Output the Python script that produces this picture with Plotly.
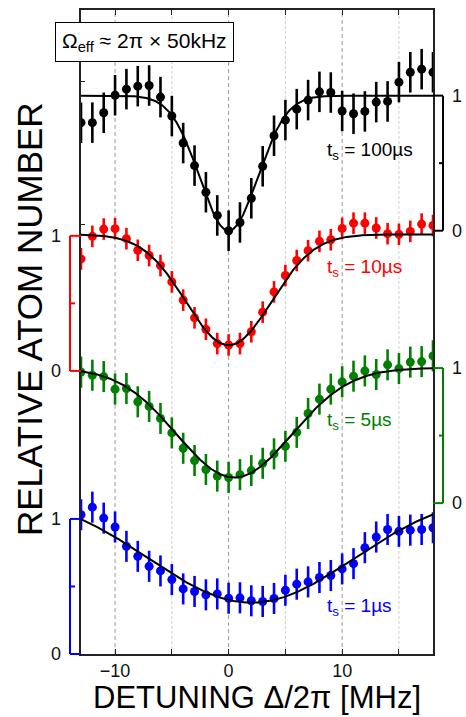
import numpy as np
import plotly.graph_objects as go

# ---------------- data ----------------
detuning = list(range(-13, 19))  # MHz

n_100us = [0.80, 0.80, 0.873, 1.003, 1.048, 1.07, 1.075, 0.989, 0.849, 0.649, 0.482, 0.285, 0.113, 0.0,
           0.061, 0.24, 0.477, 0.703, 0.819, 0.90, 0.967, 1.028, 1.023, 0.886, 0.866, 0.883, 0.952, 0.957,
           1.10, 1.173, 1.196, 1.173]
n_10us = [0.829, 0.996, 1.05, 1.053, 0.979, 0.893, 0.854, 0.78, 0.659, 0.524, 0.393, 0.308, 0.202, 0.192,
          0.202, 0.29, 0.435, 0.585, 0.706, 0.817, 0.89, 0.959, 0.971, 1.055, 1.094, 1.094, 1.058, 1.016,
          1.011, 1.033, 1.087, 1.077]
n_5us = [0.97, 0.947, 0.937, 0.844, 0.849, 0.75, 0.716, 0.627, 0.52, 0.406, 0.315, 0.249, 0.20, 0.19,
         0.211, 0.241, 0.295, 0.365, 0.421, 0.524, 0.664, 0.77, 0.844, 0.898, 0.94, 0.979, 0.952, 1.024,
         0.996, 1.044, 1.048, 1.09]
n_1us = [1.031, 1.087, 1.006, 0.94, 0.797, 0.723, 0.649, 0.615, 0.551, 0.482, 0.463, 0.438, 0.445, 0.413,
         0.416, 0.394, 0.389, 0.411, 0.472, 0.517, 0.534, 0.566, 0.581, 0.63, 0.669, 0.787, 0.866, 0.922,
         0.908, 0.917, 0.922, 0.935]

err_100us = 0.15
err_10us = 0.08
err_5us = 0.115
err_1us = 0.115

# fit parameters: baseline, depth, centre (MHz), width sigma (MHz)
fit_100us = [1.0, 1.0, 0.0, 2.55]
fit_10us = [1.01, 0.82, 0.0, 3.77]
fit_5us = [1.0, 0.81, 0.5, 5.07]
fit_1us = [1.2, 0.82, 2.0, 8.96]

labels = ["t<sub>s</sub> = 100µs", "t<sub>s</sub> = 10µs", "t<sub>s</sub> = 5µs", "t<sub>s</sub> = 1µs"]
x_major_step = 10
x_minor_step = 5

# ---------------- layout / style ----------------
W, H = 466, 717
ML, MR, MT, MB = 81, 33, 8, 63
PW, PH = W - ML - MR, H - MT - MB
YMAX = 4.768
XR = [-13, 18]
FONT = "Liberation Sans, Arial, Helvetica, sans-serif"

series = [
    dict(y=n_100us, e=err_100us, fit=fit_100us, off=3.134, color="#000000", side="right", lab=labels[0], ly=149),
    dict(y=n_10us, e=err_10us, fit=fit_10us, off=2.096, color="#ff0000", side="left", lab=labels[1], ly=267),
    dict(y=n_5us, e=err_5us, fit=fit_5us, off=1.117, color="#008000", side="right", lab=labels[2], ly=420),
    dict(y=n_1us, e=err_1us, fit=fit_1us, off=0.0, color="#0000ff", side="left", lab=labels[3], ly=607),
]

def px_x(p):
    return (p - ML) / PW

def px_y(p):
    return (H - MB - p) / PH

def ypaper(v):
    return v / YMAX

fig = go.Figure()
shapes = []
annotations = []

# vertical dashed guide lines
for xv in [-10, 0, 10]:
    shapes.append(dict(type="line", xref="x", yref="paper", x0=xv, x1=xv, y0=0, y1=1,
                       line=dict(color="#9a9a9a", width=1, dash="4px,3px"), layer="below"))
for xv in [-5, 5, 15]:
    shapes.append(dict(type="line", xref="x", yref="paper", x0=xv, x1=xv, y0=0, y1=1,
                       line=dict(color="#cfcfcf", width=1, dash="3px,2px"), layer="below"))

xfit = np.linspace(XR[0], XR[1], 400)
for s in series:
    B, A, c, sg = s["fit"]
    yfit = B - A * np.exp(-(xfit - c) ** 2 / (2 * sg ** 2))
    yy = [v + s["off"] for v in s["y"]]
    fig.add_trace(go.Scatter(
        x=detuning, y=yy, mode="markers",
        marker=dict(color=s["color"], size=9),
        error_y=dict(type="constant", value=s["e"], color=s["color"], thickness=2.6, width=0),
        showlegend=False))
    fig.add_trace(go.Scatter(x=xfit, y=yfit + s["off"], mode="lines",
                             line=dict(color="black", width=2), showlegend=False))

    # scale bracket
    y0, y1, ym = ypaper(s["off"]), ypaper(s["off"] + 1), ypaper(s["off"] + 0.5)
    lw = dict(color=s["color"], width=2)
    if s["side"] == "left":
        xb, xe, xm, xl = px_x(70), 0.0, px_x(75), px_x(56)
    else:
        xb, xe, xm, xl = px_x(443), 1.0, px_x(439), px_x(457)
    shapes += [
        dict(type="line", xref="paper", yref="paper", x0=xb, x1=xb, y0=y0, y1=y1, line=lw),
        dict(type="line", xref="paper", yref="paper", x0=xe, x1=xb, y0=y0, y1=y0, line=lw),
        dict(type="line", xref="paper", yref="paper", x0=xe, x1=xb, y0=y1, y1=y1, line=lw),
        dict(type="line", xref="paper", yref="paper", x0=xm, x1=xb, y0=ym, y1=ym, line=lw),
    ]
    for val, txt in [(0, "0"), (1, "1")]:
        annotations.append(dict(xref="paper", yref="paper", x=xl, y=ypaper(s["off"] + val),
                                text=txt, showarrow=False, xanchor="center", yanchor="middle",
                                font=dict(family=FONT, size=18, color="#111")))
    annotations.append(dict(xref="paper", yref="paper", x=px_x(325), y=px_y(s["ly"]),
                            text=s["lab"], showarrow=False, xanchor="left", yanchor="middle",
                            font=dict(family=FONT, size=19, color=s["color"])))

# Omega box
annotations.append(dict(xref="paper", yref="paper", x=px_x(144), y=px_y(40),
                        text="Ω<sub>eff</sub> ≈ 2π × 50kHz", showarrow=False,
                        xanchor="center", yanchor="middle", bgcolor="white",
                        bordercolor="black", borderwidth=1, borderpad=6,
                        font=dict(family=FONT, size=21, color="black")))
# axis titles
annotations.append(dict(xref="paper", yref="paper", x=0.5, y=px_y(698),
                        text="DETUNING Δ/2π [MHz]", showarrow=False,
                        xanchor="center", yanchor="middle",
                        font=dict(family=FONT, size=31, color="black")))
annotations.append(dict(xref="paper", yref="paper", x=px_x(29), y=px_y(318),
                        text="RELATIVE ATOM NUMBER", showarrow=False, textangle=-90,
                        xanchor="center", yanchor="middle",
                        font=dict(family=FONT, size=35, color="black")))

fig.update_layout(
    width=W, height=H, margin=dict(l=ML, r=MR, t=MT, b=MB),
    paper_bgcolor="white", plot_bgcolor="white",
    shapes=shapes, annotations=annotations, showlegend=False,
    xaxis=dict(range=XR, tick0=0, dtick=x_major_step, ticks="inside", ticklen=5,
               tickwidth=1, tickcolor="#222", mirror="ticks", showline=True, linecolor="#222",
               linewidth=1.5, showgrid=False, zeroline=False,
               minor=dict(tick0=0, dtick=x_minor_step, ticks="inside", ticklen=5,
                          tickcolor="#222", showgrid=False),
               tickfont=dict(family=FONT, size=18, color="#111")),
    yaxis=dict(range=[0, YMAX], tickvals=[3.181, 4.241], ticks="inside", ticklen=4,
               tickcolor="#222", showticklabels=False, mirror=True, showline=True,
               linecolor="#222", linewidth=1.5, showgrid=False, zeroline=False),
)

fig.write_html("out.html")
